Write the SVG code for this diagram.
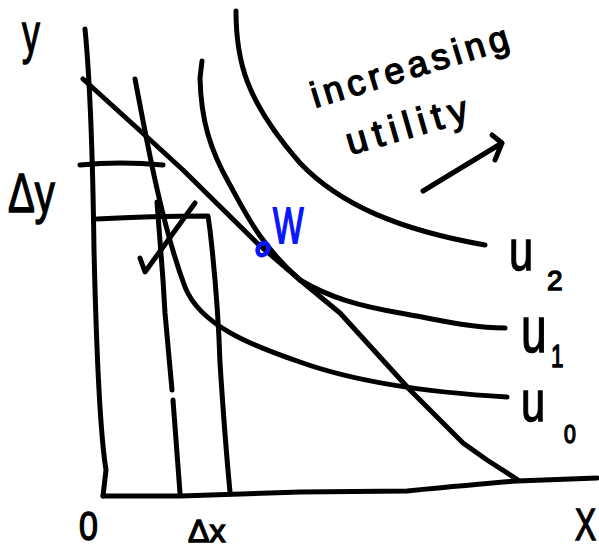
<svg xmlns="http://www.w3.org/2000/svg" width="599" height="550" viewBox="0 0 599 550">
<style>
.ln{fill:none;stroke:#000;stroke-width:5;stroke-linecap:round;stroke-linejoin:round}
.bl{fill:none;stroke:#0a14ff;stroke-width:4.5;stroke-linecap:round;stroke-linejoin:round}
.t{font-family:"Liberation Sans","DejaVu Sans",sans-serif;fill:#000;stroke:#000;stroke-width:1.4}
.tb{fill:#0a14ff;stroke:#0a14ff}
</style>
<rect width="599" height="550" fill="#fff"/>
<g id="axes">
<path class="ln" d="M85,29 Q92,100 94,250 Q98,420 106,470 L103,496"/>
<path class="ln" d="M103,496 L180,496 Q240,494 300,492 L407,491 Q480,484 517,481 L597,478"/>
</g>
<g id="connectors">
<path id="budget" class="ln" d="M83,79 L147,137 L183,170 L257,243 L300,280 L340,313 L410,390 L463,443 L487,460 L518,480"/>
<path id="u0" class="ln" d="M135,79 C145,130 160,220 185,287 C200,325 250,345 300,362 C350,380 420,392 507,397"/>
<path id="u1" class="ln" d="M202,61 L200,78 C201,120 210,150 230,185 C245,212 260,245 300,280 C330,298 360,306 400,313 C440,320 470,328 505,328"/>
<path id="u2" class="ln" d="M236,11 C236,60 245,100 300,163 C340,205 400,230 485,245"/>
<path id="dy-line" class="ln" d="M80,165 Q120,161 163,165"/>
<path id="rect" class="ln" d="M97,219 Q150,216 208,216 L210,230 Q218,300 220,363 Q225,440 230,492"/>
<path id="dx-line" class="ln" d="M157,202 L163,280 L165,313 L172,390 M173,400 L180,493"/>
<path id="check" class="ln" d="M140,258 L145,272 L195,203"/>
<path id="arrow" class="ln" d="M423,191 L502,143 M492,135 L502,143 L495,160"/>
</g>
<g id="point-w">
<ellipse class="bl" cx="263" cy="249" rx="5" ry="6.5" transform="rotate(30 263 249)"/>
<text class="t tb" font-size="38" transform="translate(273,243) scale(0.85,1.3)">W</text>
</g>
<g id="labels">
<text class="t" font-size="55" transform="translate(22,52) scale(0.65,1)">y</text>
<text class="t" font-size="55" transform="translate(8,212) scale(0.73,1)">Δy</text>
<text class="t" font-size="40" transform="translate(79,540) scale(0.85,1)">0</text>
<text class="t" font-size="32" x="188" y="542">Δx</text>
<text class="t" font-size="44" transform="translate(575,540) scale(0.72,1)">X</text>
<text class="t" font-size="58" transform="translate(509,270) scale(0.75,1)">u</text>
<text class="t" font-size="28" x="547" y="290">2</text>
<text class="t" font-size="64" transform="translate(521,352) scale(0.72,1)">u</text>
<text class="t" font-size="32" transform="translate(551,367) scale(0.7,1)">1</text>
<text class="t" font-size="58" transform="translate(521,421) scale(0.75,1)">u</text>
<text class="t" font-size="25" transform="translate(564,443) scale(0.85,1)">0</text>
<text class="t" font-size="36" transform="translate(315,108) rotate(-17)" textLength="205" lengthAdjust="spacing">increasing</text>
<text class="t" font-size="38" transform="translate(350,155) rotate(-16)" textLength="125" lengthAdjust="spacing">utility</text>
</g>
</svg>
